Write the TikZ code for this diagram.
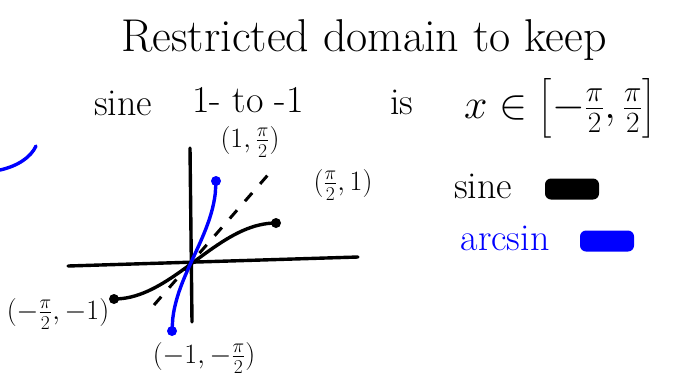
\RequirePackage{fix-cm}
\documentclass[tikz,border=0pt]{standalone}
\usepackage{amsmath}
\usetikzlibrary{positioning}
\tikzset{
  hand/.style={inner sep=0pt, font=\fontsize{38}{42}\selectfont},
  lbl/.style={inner sep=0pt, font=\fontsize{28}{32}\selectfont},
  axis/.style={line width=3.4pt, line cap=round},
  sinecurve/.style={line width=3.4pt, line cap=round, black},
  arccurve/.style={line width=3.4pt, line cap=round, blue},
  guide/.style={line width=3pt, dash pattern=on 11pt off 12pt},
  dot/.style={circle, fill, inner sep=0pt, minimum size=10pt},
  swatch/.style={rounded corners=6pt, inner sep=0pt, minimum width=54pt, minimum height=21pt},
}
\begin{document}
\begin{tikzpicture}[x=1pt, y=-1pt]
  \useasboundingbox[fill=white] (0,0) rectangle (684,381);
  % heading
  \node[hand, font=\fontsize{46}{50}\selectfont] (title) at (364,40) {Restricted domain to keep};
  \node[hand] (sineword) at (123,103) {sine};
  \node[hand] (range) at (248,100) {1- to -1};
  \node[hand] (isword) at (402,102) {is};
  \node[hand, font=\fontsize{42}{46}\selectfont] (domain) at (560,108) {$x\in\left[-\frac{\pi}{2},\frac{\pi}{2}\right]$};
  % axes
  \coordinate (xl) at (68,266); \coordinate (xr) at (358,257);
  \coordinate (yt) at (190,148); \coordinate (yb) at (192,322);
  \draw[axis] (xl) -- (xr);
  \draw[axis] (yt) -- (yb);
  % y = x guide
  \coordinate (gl) at (154,305); \coordinate (gr) at (274,168);
  \draw[guide] (gl) -- (gr);
  % sine and arcsine
  \draw[sinecurve] plot[domain=-90:90, samples=40] ({195+\x*0.9}, {261-38*sin(\x)});
  \draw[arccurve] plot[domain=-1:1, samples=60] ({194+22*\x}, {256-75*asin(\x)/90});
  \node[dot, black] (sinetop) at (276,223) {};
  \node[dot, black] (sinebot) at (114,299) {};
  \node[dot, blue] (arctop) at (216,181) {};
  \node[dot, blue] (arcbot) at (172,331) {};
  % point labels
  \node[lbl] (ltop) at (250,142) {$(1,\frac{\pi}{2})$};
  \node[lbl] (lright) at (343,185) {$(\frac{\pi}{2},1)$};
  \node[lbl] (lleft) at (58,314) {$(-\frac{\pi}{2},-1)$};
  \node[lbl] (lbottom) at (204,358) {$(-1,-\frac{\pi}{2})$};
  % legend
  \node[hand] (sinekey) at (483,186) {sine};
  \node[swatch, fill=black] (sineswatch) at (572,189) {};
  \node[hand, blue] (arckey) at (505,238) {arcsin};
  \node[swatch, fill=blue] (arcswatch) at (607,241) {};
  % stray stroke
  \coordinate (sa) at (0,170); \coordinate (sb) at (36,146);
  \draw[arccurve] (sa) .. controls (18,166) and (31,157) .. (sb);
\end{tikzpicture}
\end{document}
